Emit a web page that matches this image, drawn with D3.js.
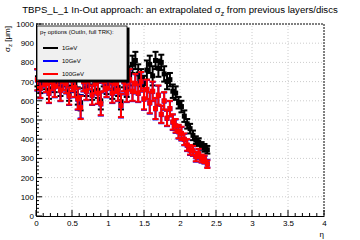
<!DOCTYPE html>
<html>
<head>
<meta charset="utf-8">
<script src="https://cdn.jsdelivr.net/npm/d3@7"></script>
<style>
  body { margin: 0; background: #fff; }
  svg { display: block; font-family: "Liberation Sans", Arial, sans-serif; }
</style>
</head>
<body>
<div id="chart"></div>
<script>
const etaBins = [0.02, 0.06, 0.10, 0.14, 0.18, 0.22, 0.26, 0.30, 0.34, 0.38,
                 0.42, 0.46, 0.50, 0.54, 0.58, 0.62, 0.66, 0.70, 0.74, 0.78,
                 0.82, 0.86, 0.90, 0.94, 0.98, 1.02, 1.06, 1.10, 1.14, 1.18,
                 1.22, 1.26, 1.30, 1.34, 1.38, 1.42, 1.46, 1.50, 1.54, 1.58,
                 1.62, 1.66, 1.70, 1.74, 1.78, 1.82, 1.86, 1.90, 1.94, 1.98,
                 2.02, 2.06, 2.10, 2.14, 2.18, 2.22, 2.26, 2.30, 2.34, 2.38];

const sigma1GeV = [720, 680, 740, 700, 655, 710, 690, 730, 670, 715,
                   700, 640, 715, 685, 625, 590, 710, 665, 725, 645,
                   700, 655, 600, 715, 680, 725, 655, 705, 670, 595,
                   715, 660, 730, 790, 810, 740, 720, 690, 760, 790,
                   730, 810, 770, 800, 740, 700, 710, 650, 640, 590,
                   570, 520, 480, 455, 420, 395, 385, 365, 355, 345];
const err1GeV = [45, 40, 45, 40, 45, 40, 45, 40, 45, 40,
                 45, 40, 45, 40, 45, 40, 45, 40, 45, 40,
                 45, 40, 45, 40, 45, 40, 45, 40, 45, 40,
                 45, 40, 50, 45, 45, 50, 45, 40, 50, 45,
                 50, 45, 45, 40, 40, 40, 35, 35, 35, 30,
                 30, 30, 25, 25, 25, 20, 20, 20, 20, 20];

const sigma10GeV = [708, 663, 728, 688, 638, 698, 673, 718, 653, 698,
                    688, 623, 703, 668, 608, 568, 698, 648, 713, 628,
                    688, 638, 583, 698, 663, 713, 638, 688, 653, 573,
                    698, 638, 708, 648, 688, 638, 698, 608, 658, 588,
                    648, 558, 628, 528, 598, 508, 558, 488, 468, 438,
                    428, 398, 368, 343, 338, 308, 323, 298, 293, 273];

const sigma100GeV = [710, 665, 730, 690, 640, 700, 675, 720, 655, 700,
                     690, 625, 705, 670, 610, 565, 700, 650, 715, 630,
                     690, 640, 585, 700, 665, 715, 640, 690, 655, 575,
                     700, 640, 710, 650, 690, 640, 700, 610, 660, 590,
                     650, 560, 630, 530, 600, 510, 560, 490, 470, 440,
                     430, 400, 370, 345, 340, 310, 325, 300, 295, 270];
const err100GeV = [55, 50, 55, 45, 50, 45, 55, 50, 55, 45,
                   50, 45, 55, 50, 55, 60, 50, 45, 55, 50,
                   50, 55, 60, 50, 45, 55, 50, 50, 55, 60,
                   50, 45, 55, 50, 50, 45, 50, 55, 50, 55,
                   50, 55, 50, 45, 45, 40, 40, 40, 35, 35,
                   35, 30, 30, 25, 25, 25, 25, 20, 20, 20];

const seriesNames = ["1GeV", "10GeV", "100GeV"];
const seriesColors = ["#000000", "#0000ff", "#ff0000"];
const legendTitle = "options (OutIn, full TRK):";

const width = 360, height = 240;
const margin = {left: 36, right: 36, top: 24, bottom: 24};

const svg = d3.select("#chart").append("svg")
    .attr("width", width)
    .attr("height", height);

const x = d3.scaleLinear().domain([0, 4]).range([margin.left, width - margin.right]);
const y = d3.scaleLinear().domain([0, 1000]).range([height - margin.bottom, margin.top]);

// grid
svg.append("g").selectAll("line")
    .data(d3.range(0.5, 4, 0.5))
    .enter().append("line")
    .attr("x1", d => x(d)).attr("x2", d => x(d))
    .attr("y1", y(0)).attr("y2", y(1000))
    .attr("stroke", "#ccc").attr("stroke-dasharray", "1,2");
svg.append("g").selectAll("line")
    .data(d3.range(100, 1000, 100))
    .enter().append("line")
    .attr("x1", x(0)).attr("x2", x(4))
    .attr("y1", d => y(d)).attr("y2", d => y(d))
    .attr("stroke", "#ccc").attr("stroke-dasharray", "1,2");

// top/right frame
svg.append("path")
    .attr("d", `M${x(0)},${y(1000)}H${x(4)}V${y(0)}`)
    .attr("fill", "none").attr("stroke", "#000")
    .attr("stroke-dasharray", "2,1");

// data
const series = [
    {values: sigma1GeV, errs: err1GeV},
    {values: sigma10GeV, errs: err100GeV},
    {values: sigma100GeV, errs: err100GeV}
];

series.forEach((s, i) => {
    const pts = etaBins.map((e, j) => ({eta: e, v: s.values[j], err: s.errs[j]}));
    const g = svg.append("g").attr("stroke", seriesColors[i]).attr("fill", seriesColors[i]);
    g.selectAll("line.bar").data(pts).enter().append("line")
        .attr("class", "bar")
        .attr("x1", d => x(d.eta)).attr("x2", d => x(d.eta))
        .attr("y1", d => y(d.v - d.err)).attr("y2", d => y(d.v + d.err))
        .attr("stroke-width", 2);
    g.selectAll("line.capTop").data(pts).enter().append("line")
        .attr("class", "capTop")
        .attr("x1", d => x(d.eta) - 3).attr("x2", d => x(d.eta) + 3)
        .attr("y1", d => y(d.v + d.err)).attr("y2", d => y(d.v + d.err))
        .attr("stroke-width", 2);
    g.selectAll("line.capBot").data(pts).enter().append("line")
        .attr("class", "capBot")
        .attr("x1", d => x(d.eta) - 3).attr("x2", d => x(d.eta) + 3)
        .attr("y1", d => y(d.v - d.err)).attr("y2", d => y(d.v - d.err))
        .attr("stroke-width", 2);
    g.selectAll("rect").data(pts).enter().append("rect")
        .attr("x", d => x(d.eta) - 2.5).attr("y", d => y(d.v) - 2.5)
        .attr("width", 5).attr("height", 5).attr("stroke", "none");
});

// axes (ticks inside, ROOT style)
const xAxis = d3.axisBottom(x).tickValues(d3.range(0, 4.01, 0.5))
    .tickSize(0).tickFormat(d3.format("~g"));
const gx = svg.append("g").attr("transform", `translate(0,${y(0)})`).call(xAxis);
gx.select(".domain").attr("stroke", "#000");
gx.selectAll("text").attr("font-size", 8).attr("dy", "0.9em").attr("fill", "#000");
svg.append("g").selectAll("line")
    .data(d3.range(0, 41))
    .enter().append("line")
    .attr("x1", d => x(d / 10)).attr("x2", d => x(d / 10))
    .attr("y1", y(0)).attr("y2", d => y(0) - (d % 5 === 0 ? 6 : 3))
    .attr("stroke", "#000");

const yAxis = d3.axisLeft(y).tickValues(d3.range(0, 1001, 100))
    .tickSize(0).tickFormat(d3.format("d"));
const gy = svg.append("g").attr("transform", `translate(${x(0)},0)`).call(yAxis);
gy.select(".domain").attr("stroke", "#000");
gy.selectAll("text").attr("font-size", 8).attr("x", -2).attr("fill", "#000");
svg.append("g").selectAll("line")
    .data(d3.range(0, 51))
    .enter().append("line")
    .attr("y1", d => y(d * 20)).attr("y2", d => y(d * 20))
    .attr("x1", x(0)).attr("x2", d => x(0) + (d % 5 === 0 ? 6 : 3))
    .attr("stroke", "#000");

// axis titles
svg.append("text")
    .attr("x", x(4)).attr("y", 237)
    .attr("text-anchor", "end").attr("font-size", 8)
    .text("η");
const yt = svg.append("text")
    .attr("transform", `translate(10,${y(1000) + 2}) rotate(-90)`)
    .attr("text-anchor", "end").attr("font-size", 8);
yt.append("tspan").text("σ");
yt.append("tspan").attr("font-size", 6).attr("dy", 2).text("z");
yt.append("tspan").attr("dy", -2).text(" [μm]");

// title
const title = svg.append("text")
    .attr("x", 180).attr("y", 13)
    .attr("text-anchor", "middle").attr("font-size", 9.6);
title.append("tspan").text("TBPS_L_1 In-Out approach: an extrapolated σ");
title.append("tspan").attr("font-size", 7).attr("dy", 2.5).text("z");
title.append("tspan").attr("dy", -2.5).text(" from previous layers/discs");

// legend
const lg = svg.append("g").attr("transform", "translate(37,26)");
lg.append("rect").attr("x", 1.5).attr("y", 1.5).attr("width", 91).attr("height", 55).attr("fill", "#000");
lg.append("rect").attr("x", 0).attr("y", 0).attr("width", 90).attr("height", 54)
    .attr("fill", "#f0f0f0").attr("stroke", "#000").attr("stroke-width", 0.8);
const lt = lg.append("text").attr("x", 3).attr("y", 8).attr("font-size", 6);
lt.append("tspan").text("p");
lt.append("tspan").attr("font-size", 4.5).attr("dy", 1.5).text("T");
lt.append("tspan").attr("dy", -1.5).text(" " + legendTitle);
seriesNames.forEach((name, i) => {
    const yy = 22 + i * 13;
    lg.append("line").attr("x1", 6).attr("x2", 21).attr("y1", yy).attr("y2", yy)
        .attr("stroke", seriesColors[i]).attr("stroke-width", 2);
    lg.append("text").attr("x", 25).attr("y", yy + 2).attr("font-size", 6).text(name);
});
</script>
</body>
</html>
